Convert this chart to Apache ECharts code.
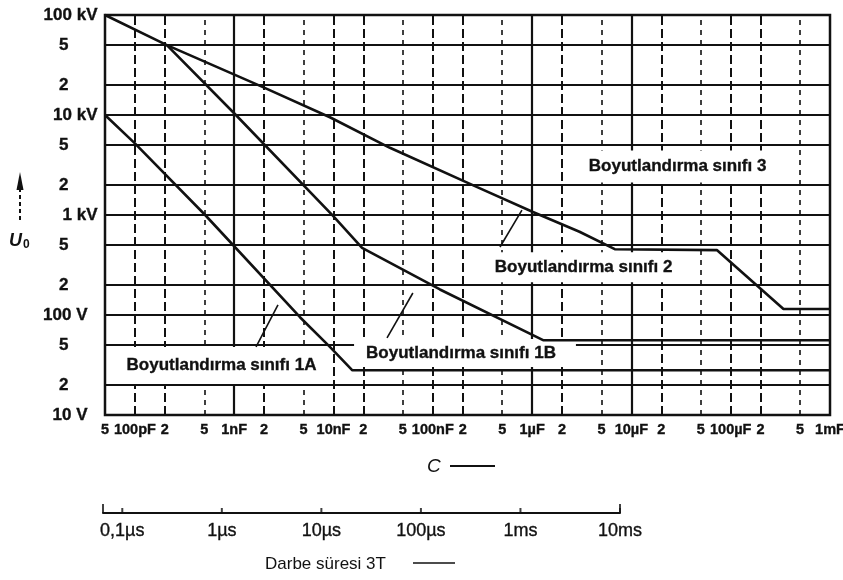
<!DOCTYPE html>
<html>
<head>
<meta charset="utf-8">
<script src="https://cdn.jsdelivr.net/npm/echarts@6/dist/echarts.min.js"></script>
<style>
  html, body { margin: 0; padding: 0; background: #fff; }
  #chart { width: 843px; height: 580px; }
</style>
</head>
<body>
<div id="chart"></div>
<script>
// Capacitance axis (F): tick positions and their printed labels
const capTicks = [5e-11, 1e-10, 2e-10, 5e-10, 1e-9, 2e-9, 5e-9, 1e-8, 2e-8, 5e-8, 1e-7, 2e-7, 5e-7,
                  1e-6, 2e-6, 5e-6, 1e-5, 2e-5, 5e-5, 1e-4, 2e-4, 5e-4, 1e-3];
const capTickLabels = ['5', '100pF', '2', '5', '1nF', '2', '5', '10nF', '2', '5', '100nF', '2', '5',
                       '1µF', '2', '5', '10µF', '2', '5', '100µF', '2', '5', '1mF'];

// Voltage axis (V)
const voltTicks = [10, 20, 50, 100, 200, 500, 1e3, 2e3, 5e3, 1e4, 2e4, 5e4, 1e5];
const voltTickLabels = ['10 V', '2', '5', '100 V', '2', '5', '1 kV', '2', '5', '10 kV', '2', '5', '100 kV'];

// Pulse duration scale (s)
const timeAxisStart = 6.4e-8;
const timeTicks = [1e-7, 1e-6, 1e-5, 1e-4, 1e-3, 1e-2];
const timeTickLabels = ['0,1µs', '1µs', '10µs', '100µs', '1ms', '10ms'];

// Limit curves: capacitance (F) and voltage (V)
const class2Cap  = [5e-11, 2.1e-10, 1.95e-9, 9.2e-9, 3.7e-8, 2.8e-7, 1.02e-6, 3.0e-6, 6.8e-6, 7.3e-5, 3.4e-4, 1e-3];
const class2Volt = [1e5, 5.0e4, 1.9e4, 9.5e3, 4.7e3, 1.9e3, 1070, 680, 455, 445, 115, 115];

const class1BCap  = [2.1e-10, 1.04e-9, 9.9e-9, 1.94e-8, 1.18e-7, 1.29e-6, 1e-3];
const class1BVolt = [5.0e4, 1.0e4, 980, 470, 180, 56, 56];

const class1ACap  = [5e-11, 1e-10, 5.1e-10, 4.6e-9, 9.2e-9, 1.55e-8, 1e-3];
const class1AVolt = [1e4, 5.2e3, 1e3, 95, 48, 28, 28];

// Class captions and where they sit (C, U)
const classLabels = ['Boyutlandırma sınıfı 3', 'Boyutlandırma sınıfı 2',
                     'Boyutlandırma sınıfı 1B', 'Boyutlandırma sınıfı 1A'];
const labelCap  = [2.37e-5, 3.3e-6, 2.11e-7, 6.95e-10];
const labelVolt = [3050, 300, 41.7, 31.3];

// Leader strokes from captions to curves (start/end in C and U)
const leaderCap  = [[4.75e-7, 7.9e-7], [3.46e-8, 6.3e-8], [1.66e-9, 2.76e-9]];
const leaderVolt = [[479, 1120], [59, 166], [48, 126]];

const INK = '#111';
const FONT = '"Liberation Sans", Arial, sans-serif';

const zip = (xs, ys) => xs.map((x, i) => [x, ys[i]]);
const mantissa = v => Math.round(v / Math.pow(10, Math.floor(Math.log10(v) + 1e-9)));

function verticalStyle(i) {
  const lbl = capTickLabels[i];
  if (lbl === '1nF' || lbl === '1µF' || lbl === '10µF') return { type: 'solid', width: 2.2, color: INK };
  const m = mantissa(capTicks[i]);
  if (m === 5) return { type: [5, 5], width: 1.6, color: INK };
  return { type: [9, 4], width: 2, color: INK };
}

const gridLines = [];
capTicks.forEach((v, i) => {
  if (i > 0 && i < capTicks.length - 1) gridLines.push({ xAxis: v, lineStyle: verticalStyle(i) });
});
voltTicks.forEach((v, i) => {
  if (i > 0 && i < voltTicks.length - 1) gridLines.push({ yAxis: v, lineStyle: { type: 'solid', width: 2, color: INK } });
});

const curveLine = { color: INK, width: 2.6 };
function curve(name, xs, ys) {
  return {
    name, type: 'line', data: zip(xs, ys), showSymbol: false, symbol: 'none',
    lineStyle: curveLine, z: 20, clip: false, silent: true
  };
}

// heavier text to suit the printed look
const inkText = { color: INK, textBorderColor: INK, textBorderWidth: 0.35, opacity: 1 };

const labelPads = [[7, 4, 5, 22], [6, 8, 4, 8], [4, 20, 4, 12], [8, 12, 9, 18]];

const series = [
  // C tick labels, plus the grid lines
  {
    type: 'scatter', z: 1, silent: true, clip: false,
    data: capTicks.map(v => [v, voltTicks[0]]),
    symbolSize: 1, itemStyle: { color: 'rgba(0,0,0,0)' },
    label: Object.assign({
      show: true, position: 'bottom', distance: 7,
      fontFamily: FONT, fontSize: 14.5, fontWeight: 'bold',
      formatter: p => capTickLabels[p.dataIndex]
    }, inkText),
    markLine: {
      silent: true, symbol: ['none', 'none'], label: { show: false }, animation: false,
      precision: 20,
      data: gridLines
    }
  },
  // U tick labels
  {
    type: 'scatter', z: 1, silent: true, clip: false,
    data: voltTicks.map(v => [capTicks[0], v]),
    symbolSize: 1, itemStyle: { color: 'rgba(0,0,0,0)' },
    label: Object.assign({
      show: true, position: 'left', distance: 7,
      fontFamily: FONT, fontSize: 17, fontWeight: 'bold',
      formatter: p => {
        const t = voltTickLabels[p.dataIndex];
        if (t.endsWith('kV')) return '{kv|' + t + '}';
        if (t.endsWith('V')) return '{v|' + t + '}';
        return '{d|' + t + '}';
      },
      rich: {
        kv: Object.assign({ fontSize: 17, fontWeight: 'bold', fontFamily: FONT }, inkText),
        v: Object.assign({ fontSize: 17, fontWeight: 'bold', fontFamily: FONT, padding: [0, 10, 0, 0] }, inkText),
        d: Object.assign({ fontSize: 17, fontWeight: 'bold', fontFamily: FONT, padding: [0, 29, 0, 0] }, inkText)
      }
    }, inkText)
  },
  curve('Boyutlandırma sınıfı 2', class2Cap, class2Volt),
  curve('Boyutlandırma sınıfı 1B', class1BCap, class1BVolt),
  curve('Boyutlandırma sınıfı 1A', class1ACap, class1AVolt),
  // captions with white boxes that break the grid behind them
  {
    type: 'scatter', z: 10, silent: true, clip: false,
    symbolSize: 1, itemStyle: { color: 'rgba(0,0,0,0)' },
    data: classLabels.map((t, i) => ({
      value: [labelCap[i], labelVolt[i]],
      label: Object.assign({
        show: true, position: 'inside', formatter: t,
        backgroundColor: '#fff', padding: labelPads[i], lineHeight: 20,
        fontFamily: FONT, fontSize: 17, fontWeight: 'bold'
      }, inkText)
    }))
  }
];

leaderCap.forEach((xs, i) => {
  series.push({
    type: 'line', data: zip(xs, leaderVolt[i]), showSymbol: false, symbol: 'none',
    lineStyle: { color: INK, width: 1.6 }, z: 20, silent: true, clip: false
  });
});

// pulse-duration scale
series.push({
  type: 'scatter', xAxisIndex: 1, yAxisIndex: 1, silent: true, clip: false, z: 5,
  data: timeTicks.map(t => [t, 0]),
  symbol: 'rect', symbolSize: [2, 5], symbolOffset: [0, -2.5],
  itemStyle: { color: INK },
  label: Object.assign({
    show: true, position: 'bottom', distance: 9,
    fontFamily: FONT, fontSize: 18,
    formatter: p => timeTickLabels[p.dataIndex]
  }, inkText)
});
series.push({
  type: 'scatter', xAxisIndex: 1, yAxisIndex: 1, silent: true, clip: false, z: 5,
  data: [[timeAxisStart, 0], [timeTicks[timeTicks.length - 1], 0]],
  symbol: 'rect', symbolSize: [2, 9], symbolOffset: [0, -4.5],
  itemStyle: { color: INK }
});

const hiddenAxis = {
  axisLine: { show: false }, axisTick: { show: false },
  axisLabel: { show: false }, splitLine: { show: false }
};

const option = {
  backgroundColor: '#fff',
  animation: false,
  grid: [
    { left: 105, top: 15, width: 725, height: 400, show: true, borderColor: INK, borderWidth: 2.5, backgroundColor: 'transparent' },
    { left: 103, top: 512, width: 517, height: 1 }
  ],
  xAxis: [
    Object.assign({ type: 'log', logBase: 10, gridIndex: 0, min: capTicks[0], max: capTicks[capTicks.length - 1] }, hiddenAxis),
    {
      type: 'log', logBase: 10, gridIndex: 1, min: timeAxisStart, max: timeTicks[timeTicks.length - 1],
      axisLine: { show: true, lineStyle: { color: INK, width: 2 } },
      axisTick: { show: false }, axisLabel: { show: false }, splitLine: { show: false }
    }
  ],
  yAxis: [
    Object.assign({ type: 'log', logBase: 10, gridIndex: 0, min: voltTicks[0], max: voltTicks[voltTicks.length - 1] }, hiddenAxis),
    { type: 'value', gridIndex: 1, min: 0, max: 1, show: false }
  ],
  graphic: [
    // U0 with its arrow
    { type: 'polygon', shape: { points: [[16.5, 190], [20, 172], [23.5, 190]] }, style: { fill: INK } },
    { type: 'line', shape: { x1: 20, y1: 188, x2: 20, y2: 222 }, style: { stroke: INK, lineWidth: 2, lineDash: [4, 3] } },
    { type: 'text', left: 9, top: 232, style: { text: 'U', font: 'italic bold 18px ' + FONT, fill: INK } },
    { type: 'text', left: 23, top: 239, style: { text: '0', font: 'bold 12px ' + FONT, fill: INK } },
    // C ——
    { type: 'text', left: 427, top: 457, style: { text: 'C', font: 'italic 19px ' + FONT, fill: INK } },
    { type: 'line', shape: { x1: 450, y1: 466, x2: 495, y2: 466 }, style: { stroke: INK, lineWidth: 1.8 } },
    // Darbe süresi 3T ——
    { type: 'text', left: 265, top: 556, style: { text: 'Darbe süresi 3T', font: '17px ' + FONT, fill: INK } },
    { type: 'line', shape: { x1: 413, y1: 563, x2: 455, y2: 563 }, style: { stroke: INK, lineWidth: 1.6 } }
  ],
  series
};

const chart = echarts.init(document.getElementById('chart'), null, { renderer: 'canvas' });
chart.setOption(option);
</script>
</body>
</html>
